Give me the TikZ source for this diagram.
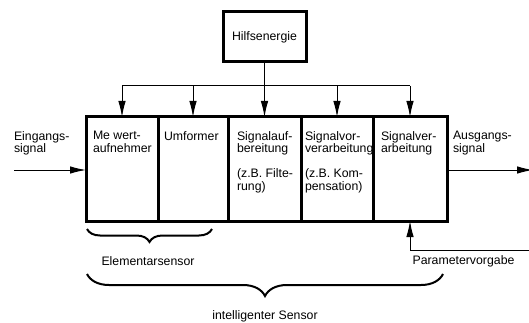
\documentclass[tikz,border=0pt]{standalone}
\usepackage{fontspec}
\setmainfont{Liberation Sans}
\usetikzlibrary{arrows.meta,decorations.pathreplacing}
\begin{document}
\begin{tikzpicture}[x=1pt,y=-1pt,
  every node/.style={font=\fontsize{12.3}{12.5}\selectfont, inner sep=0pt, outer sep=0pt},
  cell/.style={draw, line width=3pt, minimum height=104pt, anchor=north west},
  txt/.style={anchor=north west, align=left},
  arr/.style={line width=1pt, -{Latex[length=16pt,width=7.5pt]}},
  ln/.style={line width=1pt},
  brc/.style={decorate, decoration={brace, mirror, amplitude=#1}, line width=2pt},
]
\useasboundingbox (0,0) rectangle (529,323);
% cells
\node[cell, minimum width=72pt] (c1) at (86,117) {};
\node[cell, minimum width=70pt] (c2) at (158,117) {};
\node[cell, minimum width=73pt] (c3) at (228,117) {};
\node[cell, minimum width=72pt] (c4) at (301,117) {};
\node[cell, minimum width=74pt] (c5) at (373,117) {};
% cell texts
\node[txt] (t1) at (93,131.5) {Me wert-\\aufnehmer};
\node[txt] (t2) at (164,131.5) {Umformer};
\node[txt] (t3) at (237,131.5) {Signalauf-\\bereitung\\[12.5pt](z.B. Filte-\\rung)};
\node[txt] (t4) at (305,131.5) {Signalvor-\\verarbeitung\\[12.5pt](z.B. Kom-\\pensation)};
\node[txt] (t5) at (381,131.5) {Signalver-\\arbeitung};
% auxiliary energy
\node[draw, line width=3pt, minimum width=83pt, minimum height=50pt] (h) at (264.5,37) {Hilfsenergie};
\coordinate (bus) at (264.5,86);
\draw[ln] (h.south) -- (bus);
\draw[ln] (c1.north |- bus) -- (c5.north |- bus);
\foreach \c in {c1,c2,c3,c4,c5} \draw[arr] (\c.north |- bus) -- (\c.north);
% input / output
\node[txt] (ein) at (14,131.5) {Eingangs-\\signal};
\node[txt] (aus) at (453,131.5) {Ausgangs-\\signal};
\coordinate (in) at (14,170);
\coordinate (out) at (533,170);
\draw[arr] (in) -- (c1.west |- in);
\draw[arr] (c5.east |- out) -- (out);
% parameter
\coordinate (pv) at (531,250);
\draw[arr] (pv) -- (c5.south |- pv) -- (c5.south);
\node[anchor=base] (pg) at (463.5,264.5) {Parametervorgabe};
% braces
\draw[brc=13pt] (87,229) -- (212,229);
\node[anchor=base] (es) at (148,265) {Elementarsensor};
\draw[brc=22pt] (87,274) -- (443,274);
\node[anchor=base] (is) at (265,319.5) {intelligenter Sensor};
\end{tikzpicture}
\end{document}
